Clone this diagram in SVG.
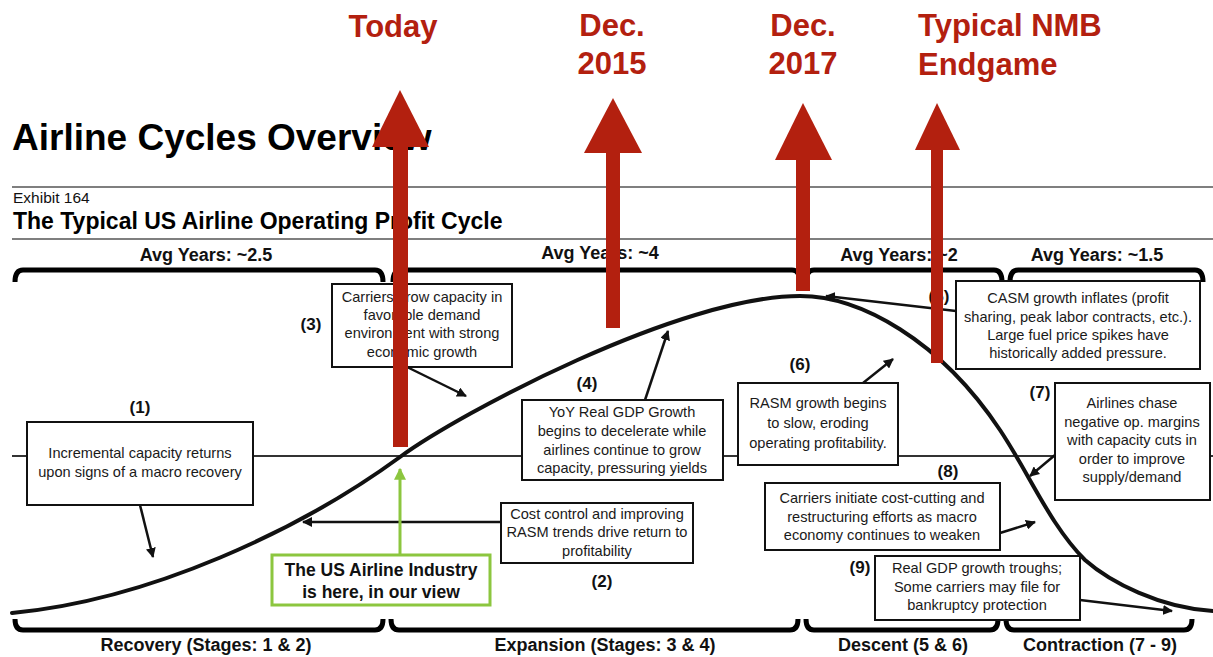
<svg xmlns="http://www.w3.org/2000/svg" width="1213" height="657" viewBox="0 0 1213 657">
  <defs>
    <style>
      text { font-family: "Liberation Sans", Arial, Helvetica, sans-serif; }
      .title { font-size: 37px; font-weight: bold; fill: #000; }
      .sub { font-size: 23px; font-weight: bold; fill: #000; }
      .exh { font-size: 15.5px; fill: #111; }
      .avg { font-size: 18px; font-weight: bold; fill: #111; text-anchor: middle; }
      .stage { font-size: 18px; font-weight: bold; fill: #111; text-anchor: middle; }
      .rule { stroke: #555; stroke-width: 1.5; }
      .brace { fill: none; stroke: #000; stroke-width: 5; stroke-linejoin: round; }
      .zero { stroke: #333; stroke-width: 2; }
      .curve { fill: none; stroke: #111; stroke-width: 4; stroke-linecap: round; }
      .conn { fill: none; stroke: #111; stroke-width: 2.5; marker-end: url(#ah); }
      .box { fill: #fff; stroke: #111; stroke-width: 2; }
      .bt { font-size: 14.6px; fill: #1a1a1a; text-anchor: middle; }
      .num { font-size: 17px; font-weight: bold; fill: #111; text-anchor: middle; }
      .gbox { fill: #fff; stroke: #8cc63f; stroke-width: 3; }
      .gt { font-size: 17.5px; font-weight: bold; fill: #111; text-anchor: middle; }
      .gconn { fill: none; stroke: #8cc63f; stroke-width: 3; marker-end: url(#gah); }
      .red { fill: #b3200f; }
      .rt { font-size: 31px; font-weight: bold; fill: #b3200f; }
    </style>
    <marker id="ah" viewBox="0 0 10 10" refX="9" refY="5" markerWidth="4" markerHeight="4" orient="auto" markerUnits="strokeWidth">
      <path d="M0,0 L10,5 L0,10 z" fill="#111"/>
    </marker>
    <marker id="gah" viewBox="0 0 10 10" refX="9" refY="5" markerWidth="4" markerHeight="4" orient="auto" markerUnits="strokeWidth">
      <path d="M0,0 L10,5 L0,10 z" fill="#8cc63f"/>
    </marker>
  </defs>

  <rect width="1213" height="657" fill="#fff"/>

  <!-- headings -->
  <text class="title" x="12" y="150">Airline Cycles Overview</text>
  <line class="rule" x1="12" y1="187" x2="1213" y2="187"/>
  <text class="exh" x="13" y="203">Exhibit 164</text>
  <text class="sub" x="13" y="229">The Typical US Airline Operating Profit Cycle</text>
  <line class="rule" x1="12" y1="239" x2="1213" y2="239"/>

  <!-- phase durations (top braces) -->
  <g id="durations">
    <text class="avg" x="206" y="261">Avg Years: ~2.5</text>
    <text class="avg" x="600" y="259">Avg Years: ~4</text>
    <text class="avg" x="899" y="261">Avg Years: ~2</text>
    <text class="avg" x="1097" y="261">Avg Years: ~1.5</text>
    <path class="brace" d="M15,282 Q15,270 23,270 H375 Q383,270 383,282"/>
    <path class="brace" d="M393,282 Q393,270 401,270 H792 Q800,270 800,282"/>
    <path class="brace" d="M806,282 Q806,270 814,270 H994 Q1002,270 1002,282"/>
    <path class="brace" d="M1010,282 Q1010,270 1018,270 H1195 Q1203,270 1203,282"/>
  </g>

  <!-- stage names (bottom braces) -->
  <g id="stages">
    <path class="brace" d="M15,619 Q15,630 23,630 H375 Q383,630 383,619"/>
    <path class="brace" d="M391,619 Q391,630 399,630 H790 Q798,630 798,619"/>
    <path class="brace" d="M806,619 Q806,630 814,630 H990 Q998,630 998,619"/>
    <path class="brace" d="M1006,619 Q1006,630 1014,630 H1184 Q1192,630 1192,619"/>
    <text class="stage" x="206" y="651">Recovery (Stages: 1 &amp; 2)</text>
    <text class="stage" x="605" y="651">Expansion (Stages: 3 &amp; 4)</text>
    <text class="stage" x="903" y="651">Descent (5 &amp; 6)</text>
    <text class="stage" x="1100" y="651">Contraction (7 - 9)</text>
  </g>

  <!-- zero-profit line and the profit cycle curve -->
  <line class="zero" x1="12" y1="456" x2="1213" y2="456"/>
  <path id="cycle" class="curve" d="M12,613 C150,600 300,530 400,457 C460,413 680,296 800,296 C860,296 940,340 1000,430 C1030,475 1050,525 1085,560 C1110,582 1160,608 1213,611"/>

  <!-- connectors -->
  <g id="connectors">
    <line class="conn" x1="140" y1="505" x2="153" y2="557"/>
    <line class="conn" x1="407" y1="367" x2="466" y2="396"/>
    <line class="conn" x1="645" y1="400" x2="668" y2="331"/>
    <line class="conn" x1="501" y1="522" x2="303" y2="522"/>
    <line class="conn" x1="863" y1="383" x2="893" y2="359"/>
    <line class="conn" x1="956" y1="311" x2="826" y2="296"/>
    <line class="conn" x1="1055" y1="455" x2="1030" y2="476"/>
    <line class="conn" x1="1000" y1="533" x2="1035" y2="522"/>
    <line class="conn" x1="1080" y1="600" x2="1172" y2="611"/>
    <line class="gconn" x1="400" y1="555" x2="400" y2="469"/>
  </g>

  <!-- stage notes -->
  <g id="n1">
    <text class="num" x="140" y="413">(1)</text>
    <rect class="box" x="27" y="422" width="226" height="83"/>
    <text class="bt" x="140" y="458">Incremental capacity returns</text>
    <text class="bt" x="140" y="477">upon signs of a macro recovery</text>
  </g>
  <g id="n2">
    <rect class="box" x="501" y="503" width="192" height="60"/>
    <text class="bt" x="597" y="519">Cost control and improving</text>
    <text class="bt" x="597" y="537">RASM trends drive return to</text>
    <text class="bt" x="597" y="556">profitability</text>
    <text class="num" x="602" y="587">(2)</text>
  </g>
  <g id="n3">
    <text class="num" x="311" y="330">(3)</text>
    <rect class="box" x="332" y="284" width="180" height="83"/>
    <text class="bt" x="422" y="302">Carriers grow capacity in</text>
    <text class="bt" x="422" y="320">favorable demand</text>
    <text class="bt" x="422" y="338">environment with strong</text>
    <text class="bt" x="422" y="357">economic growth</text>
  </g>
  <g id="n4">
    <text class="num" x="587" y="389">(4)</text>
    <rect class="box" x="522" y="400" width="201" height="80"/>
    <text class="bt" x="622" y="417">YoY Real GDP Growth</text>
    <text class="bt" x="622" y="436">begins to decelerate while</text>
    <text class="bt" x="622" y="455">airlines continue to grow</text>
    <text class="bt" x="622" y="473">capacity, pressuring yields</text>
  </g>
  <g id="n5">
    <text class="num" x="939" y="302">(5)</text>
    <rect class="box" x="956" y="281" width="244" height="88"/>
    <text class="bt" x="1078" y="303">CASM growth inflates (profit</text>
    <text class="bt" x="1078" y="322">sharing, peak labor contracts, etc.).</text>
    <text class="bt" x="1078" y="340">Large fuel price spikes have</text>
    <text class="bt" x="1078" y="358">historically added pressure.</text>
  </g>
  <g id="n6">
    <text class="num" x="800" y="370">(6)</text>
    <rect class="box" x="738" y="383" width="160" height="82"/>
    <text class="bt" x="818" y="408">RASM growth begins</text>
    <text class="bt" x="818" y="428">to slow, eroding</text>
    <text class="bt" x="818" y="448">operating profitability.</text>
  </g>
  <g id="n7">
    <text class="num" x="1040" y="398">(7)</text>
    <rect class="box" x="1055" y="383" width="155" height="117"/>
    <text class="bt" x="1132" y="408">Airlines chase</text>
    <text class="bt" x="1132" y="427">negative op. margins</text>
    <text class="bt" x="1132" y="445">with capacity cuts in</text>
    <text class="bt" x="1132" y="464">order to improve</text>
    <text class="bt" x="1132" y="482">supply/demand</text>
  </g>
  <g id="n8">
    <text class="num" x="948" y="477">(8)</text>
    <rect class="box" x="765" y="483" width="235" height="67"/>
    <text class="bt" x="882" y="503">Carriers initiate cost-cutting and</text>
    <text class="bt" x="882" y="522">restructuring efforts as macro</text>
    <text class="bt" x="882" y="540">economy continues to weaken</text>
  </g>
  <g id="n9">
    <text class="num" x="860" y="573">(9)</text>
    <rect class="box" x="875" y="556" width="205" height="64"/>
    <text class="bt" x="977" y="573">Real GDP growth troughs;</text>
    <text class="bt" x="977" y="592">Some carriers may file for</text>
    <text class="bt" x="977" y="610">bankruptcy protection</text>
  </g>
  <g id="here">
    <rect class="gbox" x="272" y="555" width="218" height="50"/>
    <text class="gt" x="381" y="576">The US Airline Industry</text>
    <text class="gt" x="381" y="598">is here, in our view</text>
  </g>

  <!-- timeline markers -->
  <g id="today">
    <rect class="red" x="393" y="145" width="15" height="302"/>
    <polygon class="red" points="372,147 429,147 400,90"/>
    <text class="rt" x="393" y="37" text-anchor="middle">Today</text>
  </g>
  <g id="dec2015">
    <rect class="red" x="606" y="150" width="14" height="178"/>
    <polygon class="red" points="584,153 642,153 613,98"/>
    <text class="rt" x="612" y="36" text-anchor="middle">Dec.</text>
    <text class="rt" x="612" y="74" text-anchor="middle">2015</text>
  </g>
  <g id="dec2017">
    <rect class="red" x="796" y="157" width="14" height="134"/>
    <polygon class="red" points="775,160 832,160 803,103"/>
    <text class="rt" x="803" y="36" text-anchor="middle">Dec.</text>
    <text class="rt" x="803" y="74" text-anchor="middle">2017</text>
  </g>
  <g id="nmb">
    <rect class="red" x="931" y="147" width="12" height="216"/>
    <polygon class="red" points="915,150 960,150 937,103"/>
    <text class="rt" x="918" y="36">Typical NMB</text>
    <text class="rt" x="918" y="75">Endgame</text>
  </g>
</svg>
